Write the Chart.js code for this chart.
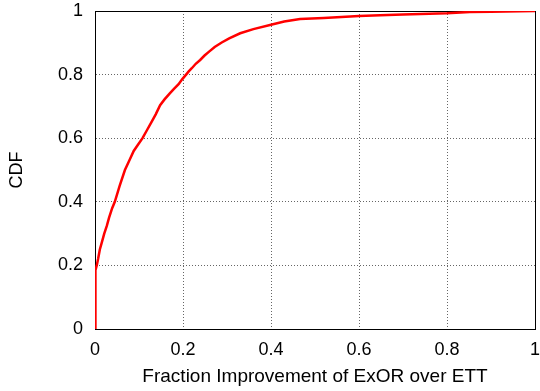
<!DOCTYPE html>
<html>
<head>
<meta charset="utf-8">
<script src="https://cdn.jsdelivr.net/npm/chart.js@4/dist/chart.umd.min.js"></script>
<style>
  html, body { margin: 0; padding: 0; background: #fff; }
  #wrap { width: 540px; height: 391px; }
</style>
</head>
<body>
<div id="wrap"><canvas id="cdf"></canvas></div>
<script>
// CDF of fraction improvement
const improvement = [0, 0, 0.002, 0.004, 0.007, 0.011, 0.016, 0.021, 0.027, 0.032,
    0.039, 0.045, 0.056, 0.068, 0.078, 0.088, 0.098, 0.108, 0.118, 0.128,
    0.138, 0.148, 0.158, 0.17, 0.18, 0.19, 0.198, 0.207, 0.213, 0.22,
    0.229, 0.239, 0.249, 0.26, 0.272, 0.288, 0.305, 0.33, 0.36, 0.4,
    0.43, 0.466, 0.52, 0.6, 0.648, 0.7, 0.8, 0.852, 0.9, 1.0];
const cdf = [0, 0.165, 0.185, 0.2, 0.22, 0.25, 0.275, 0.3, 0.325, 0.35,
    0.38, 0.4, 0.45, 0.5, 0.53, 0.56, 0.58, 0.6, 0.625, 0.65,
    0.675, 0.704, 0.722, 0.741, 0.756, 0.77, 0.785, 0.8, 0.81, 0.82,
    0.834, 0.846, 0.86, 0.873, 0.887, 0.901, 0.914, 0.93, 0.943, 0.957,
    0.967, 0.975, 0.978, 0.984, 0.987, 0.989, 0.993, 0.997, 0.998, 1.0];
const xTitle = 'Fraction Improvement of ExOR over ETT';
const yTitle = 'CDF';

const points = improvement.map((x, i) => ({ x: x, y: cdf[i] }));

Chart.defaults.font.family = '"Liberation Sans", Arial, sans-serif';
Chart.defaults.font.size = 18;
Chart.defaults.color = '#000';

// dotted grid, but not on the frame edges
const gridColor = (ctx) => (ctx.index === 0 || ctx.index === 5) ? 'rgba(0,0,0,0)' : '#666';
const fmt = (v) => String(Number(v.toFixed(1)));

new Chart(document.getElementById('cdf'), {
    type: 'scatter',
    data: {
        datasets: [{
            data: points,
            showLine: true,
            borderColor: '#ff0000',
            borderWidth: 2.5,
            pointRadius: 0,
            tension: 0
        }]
    },
    options: {
        responsive: true,
        maintainAspectRatio: false,
        animation: false,
        layout: { padding: { top: 11, right: 5, left: 0, bottom: 0 } },
        plugins: {
            legend: { display: false },
            tooltip: { enabled: false }
        },
        scales: {
            x: {
                type: 'linear',
                min: 0, max: 1,
                ticks: { stepSize: 0.2, padding: 10, maxRotation: 0, callback: fmt },
                grid: { color: gridColor, lineWidth: 1, drawTicks: false },
                border: { display: true, color: '#000', width: 1, dash: [1, 2] },
                title: { display: true, text: xTitle, font: { size: 19 }, padding: { top: 0, bottom: 3 } },
                afterFit: (scale) => {
                    scale.height = 62;
                    scale.paddingLeft = 0;
                    scale.paddingRight = 0;
                }
            },
            y: {
                min: 0, max: 1,
                ticks: { stepSize: 0.2, padding: 12, callback: fmt },
                grid: { color: gridColor, lineWidth: 1, drawTicks: false },
                border: { display: true, color: '#000', width: 1, dash: [1, 2] },
                title: { display: true, text: yTitle, padding: { top: 6, bottom: 0 } },
                afterFit: (scale) => {
                    scale.width = 95;
                    scale.paddingTop = 0;
                    scale.paddingBottom = 0;
                }
            },
            xTop: {
                type: 'linear', position: 'top', min: 0, max: 1,
                ticks: { display: false },
                grid: { display: false, drawTicks: false },
                border: { display: true, color: '#000', width: 1 },
                afterFit: (scale) => { scale.height = 0; }
            },
            yRight: {
                type: 'linear', position: 'right', min: 0, max: 1,
                ticks: { display: false },
                grid: { display: false, drawTicks: false },
                border: { display: true, color: '#000', width: 1 },
                afterFit: (scale) => { scale.width = 0; }
            }
        }
    }
});
</script>
</body>
</html>
